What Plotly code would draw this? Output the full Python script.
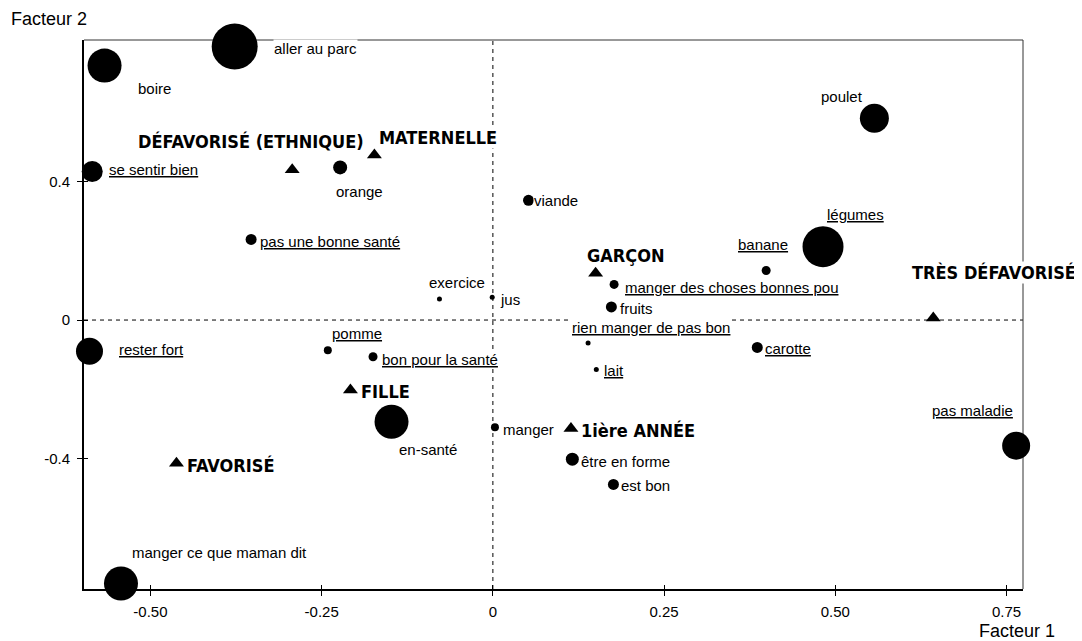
import plotly.graph_objects as go

# ---------------- data ----------------
word_labels = [
    "aller au parc", "boire", "se sentir bien", "orange", "pas une bonne santé",
    "exercice", "jus", "viande", "poulet", "légumes", "banane",
    "manger des choses bonnes pou", "fruits", "rien manger de pas bon", "lait",
    "carotte", "pas maladie", "être en forme", "est bon", "manger",
    "rester fort", "pomme", "bon pour la santé", "en-santé",
    "manger ce que maman dit",
]
word_f1 = [-0.377, -0.567, -0.585, -0.223, -0.353,
           -0.078, -0.001, 0.052, 0.557, 0.482, 0.399,
           0.177, 0.173, 0.139, 0.151,
           0.386, 0.764, 0.116, 0.176, 0.003,
           -0.589, -0.241, -0.175, -0.148,
           -0.543]
word_f2 = [0.790, 0.735, 0.429, 0.441, 0.233,
           0.061, 0.066, 0.346, 0.583, 0.212, 0.143,
           0.103, 0.038, -0.066, -0.143,
           -0.079, -0.363, -0.402, -0.475, -0.310,
           -0.090, -0.087, -0.106, -0.294,
           -0.761]
word_underlined = [False, False, True, False, True,
                   False, False, False, False, True, True,
                   True, False, True, True,
                   True, True, False, False, False,
                   True, True, True, False,
                   False]

group_labels = ["DÉFAVORISÉ (ETHNIQUE)", "MATERNELLE", "GARÇON", "TRÈS DÉFAVORISÉ",
                "1ière ANNÉE", "FILLE", "FAVORISÉ"]
group_f1 = [-0.293, -0.173, 0.150, 0.643, 0.114, -0.208, -0.462]
group_f2 = [0.434, 0.477, 0.135, 0.006, -0.313, -0.202, -0.414]

x_ticks = [-0.50, -0.25, 0, 0.25, 0.50, 0.75]
x_tick_text = ["-0.50", "-0.25", "0", "0.25", "0.50", "0.75"]
y_ticks = [-0.4, 0, 0.4]
y_tick_text = ["-0.4", "0", "0.4"]

# ---------------- styles / layout helpers ----------------
word_marker_px = [46, 34, 21, 14, 11,
                  5, 5, 11, 29, 41, 9,
                  9, 11, 5, 5,
                  11, 28, 13, 11, 8,
                  27, 8, 9, 34,
                  34]
# label offsets in px (dx right, dy down) and anchor
word_label_off = [(38, 2, "left"), (32, 23, "left"), (16, -2, "left"), (-5, 24, "left"),
                  (8, 2, "left"), (-11, -16, "left"), (7, 2, "left"), (4, 0, "left"),
                  (-54, -22, "left"), (3, -32, "left"), (-29, -26, "left"),
                  (10, 3, "left"), (8, 2, "left"), (-17, -15, "left"), (7, 1, "left"),
                  (7, 1, "left"), (-2, -35, "right"), (8, 2, "left"), (7, 1, "left"),
                  (7, 2, "left"), (29, -2, "left"), (3, -17, "left"), (8, 3, "left"),
                  (6, 28, "left"), (10, -31, "left")]
group_label_off = [(73, -28, "right"), (4, -17, "left"), (-10, -18, "left"),
                   (144, -45, "right"), (9, 2, "left"), (10, 2, "left"), (10, 2, "left")]

REG = "Liberation Sans, Arial, sans-serif"
COND = "DejaVu Sans Condensed, Liberation Sans Narrow, sans-serif"

x_range = [-0.597, 0.774]
y_range = [-0.777, 0.809]

fig = go.Figure()

fig.add_trace(go.Scatter(
    x=word_f1, y=word_f2, mode="markers",
    marker=dict(symbol="circle", size=word_marker_px, color="black", opacity=1, line=dict(width=0)),
    cliponaxis=False, hoverinfo="text", hovertext=word_labels, showlegend=False,
))
fig.add_trace(go.Scatter(
    x=group_f1, y=group_f2, mode="markers",
    marker=dict(symbol="triangle-up", size=13, color="black", opacity=1, line=dict(width=0)),
    cliponaxis=False, hoverinfo="text", hovertext=group_labels, showlegend=False,
))
# helper trace for the inner tick overlay axes
fig.add_trace(go.Scatter(x=[], y=[], xaxis="x2", yaxis="y2", showlegend=False))

annotations = []
for lab, xv, yv, ul, (dx, dy, anc) in zip(word_labels, word_f1, word_f2, word_underlined, word_label_off):
    annotations.append(dict(
        x=xv, y=yv, xref="x", yref="y", text=lab, showarrow=False,
        xanchor=anc, yanchor="middle", xshift=dx, yshift=-dy,
        font=dict(family=REG, size=15, color="black",
                  lineposition="under" if ul else "none"),
        bgcolor="white", borderpad=0,
    ))
for lab, xv, yv, (dx, dy, anc) in zip(group_labels, group_f1, group_f2, group_label_off):
    annotations.append(dict(
        x=xv, y=yv, xref="x", yref="y", text="<b>" + lab + "</b>", showarrow=False,
        xanchor=anc, yanchor="middle", xshift=dx, yshift=-dy,
        font=dict(family=COND, size=18, color="black"),
        bgcolor="white", borderpad=0,
    ))
# axis titles
annotations.append(dict(x=0, y=1, xref="paper", yref="paper", text="Facteur 2",
                        showarrow=False, xanchor="left", yanchor="middle",
                        xshift=-75, yshift=21, font=dict(family=REG, size=18, color="black")))
annotations.append(dict(x=1, y=0, xref="paper", yref="paper", text="Facteur 1",
                        showarrow=False, xanchor="left", yanchor="middle",
                        xshift=-46, yshift=-42, font=dict(family=REG, size=18, color="black")))

shapes = [
    # dashed zero lines
    dict(type="line", xref="x", yref="paper", x0=0, x1=0, y0=0, y1=1,
         line=dict(color="black", width=1, dash="4px,4px"), layer="below"),
    dict(type="line", xref="paper", yref="y", x0=0, x1=1, y0=0, y1=0,
         line=dict(color="black", width=1, dash="4px,4px"), layer="below"),
    # top and right frame
    dict(type="line", xref="paper", yref="paper", x0=0, x1=1, y0=1, y1=1,
         line=dict(color="#333333", width=1), layer="below"),
    dict(type="line", xref="paper", yref="paper", x0=1, x1=1, y0=0, y1=1,
         line=dict(color="#333333", width=1), layer="below"),
]

tick_font = dict(family=REG, size=15, color="black")
# the page body adds an 8px margin at left/top, so the figure is 8px smaller
fig.update_layout(
    width=1074, height=633,
    margin=dict(l=76, r=59, t=32, b=52),
    paper_bgcolor="white", plot_bgcolor="white",
    showlegend=False,
    xaxis=dict(range=x_range, tickvals=x_ticks, ticktext=x_tick_text,
               showgrid=False, zeroline=False, showline=True, linecolor="black", linewidth=2,
               ticks="outside", ticklen=5, tickwidth=1, tickcolor="black",
               tickfont=tick_font, ticklabelstandoff=3, fixedrange=True),
    yaxis=dict(range=y_range, tickvals=y_ticks, ticktext=y_tick_text,
               showgrid=False, zeroline=False, showline=True, linecolor="black", linewidth=2,
               ticks="outside", ticklen=5, tickwidth=1, tickcolor="black",
               tickfont=tick_font, ticklabelstandoff=4, fixedrange=True),
    xaxis2=dict(range=x_range, tickvals=x_ticks, overlaying="x", anchor="y2",
                showticklabels=False, ticks="inside", ticklen=4, tickcolor="black",
                showgrid=False, zeroline=False, showline=False, fixedrange=True),
    yaxis2=dict(range=y_range, tickvals=y_ticks, overlaying="y", anchor="x2",
                showticklabels=False, ticks="inside", ticklen=4, tickcolor="black",
                showgrid=False, zeroline=False, showline=False, fixedrange=True),
    annotations=annotations,
    shapes=shapes,
)

fig.write_html("out.html")
